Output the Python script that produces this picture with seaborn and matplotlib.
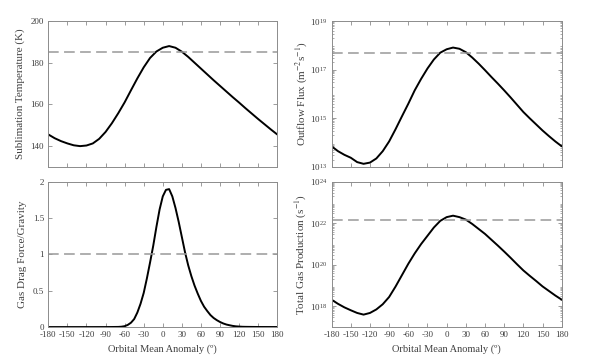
import numpy as np
import pandas as pd
import seaborn as sns
import matplotlib.pyplot as plt
from matplotlib.ticker import LogLocator, FixedLocator, NullFormatter

# orbital mean anomaly grid (deg)
anomaly = list(range(-180, 181, 10))

# sublimation temperature (K)
temperature = [145.6, 143.8, 142.4, 141.3, 140.4, 140.0, 140.3, 141.3, 143.5, 146.8,
               151.0, 155.8, 161.0, 166.8, 172.5, 177.8, 182.3, 185.4, 187.2, 188.0,
               187.2, 185.3, 182.8, 180.0, 177.2, 174.4, 171.6, 168.9, 166.2, 163.5,
               160.9, 158.2, 155.6, 153.0, 150.5, 148.0, 145.6]

# log10 outflow flux (m^-2 s^-1)
log_flux = [13.85, 13.65, 13.50, 13.38, 13.20, 13.13, 13.18, 13.35, 13.65, 14.05,
            14.55, 15.08, 15.60, 16.15, 16.62, 17.05, 17.42, 17.70, 17.84, 17.91,
            17.86, 17.72, 17.50, 17.25, 16.98, 16.70, 16.43, 16.15, 15.86, 15.56,
            15.26, 15.00, 14.75, 14.50, 14.27, 14.05, 13.85]

# log10 total gas production (s^-1)
log_prod = [18.32, 18.12, 17.95, 17.81, 17.68, 17.60, 17.68, 17.85, 18.10, 18.45,
            18.95, 19.50, 20.05, 20.55, 21.00, 21.40, 21.80, 22.12, 22.30, 22.37,
            22.30, 22.18, 21.97, 21.73, 21.49, 21.21, 20.93, 20.64, 20.34, 20.03,
            19.73, 19.47, 19.22, 18.96, 18.74, 18.52, 18.32]

# gas drag force / gravity, finer grid around the peak
drag_anomaly = [-180, -150, -120, -90, -80] + list(range(-70, 131, 5)) + [150, 180]
drag = [0.0, 0.0, 0.0, 0.0003, 0.001,
        0.002, 0.005, 0.012, 0.03, 0.06, 0.11, 0.20, 0.32, 0.47, 0.67,
        0.89, 1.12, 1.38, 1.62, 1.80, 1.89, 1.90, 1.80, 1.64, 1.45,
        1.24, 1.03, 0.85, 0.70, 0.57, 0.46, 0.36, 0.28, 0.22, 0.165,
        0.125, 0.095, 0.07, 0.05, 0.035, 0.025, 0.016, 0.01, 0.007, 0.004,
        0.003, 0.001, 0.0005]

temp_limit = 185
flux_limit = 10 ** 17.69
drag_limit = 1
prod_limit = 10 ** 22.16

xticks = list(range(-180, 181, 30))

sns.set_style("ticks")
plt.rcParams['font.family'] = ['Liberation Serif', 'DejaVu Serif']
plt.rcParams['mathtext.fontset'] = 'stix'

df = pd.DataFrame({"anomaly": anomaly,
                   "temperature": temperature,
                   "flux": np.power(10.0, log_flux),
                   "production": np.power(10.0, log_prod)})
df_drag = pd.DataFrame({"anomaly": drag_anomaly, "drag": drag})

fig = plt.figure(figsize=(6.04, 3.63), dpi=100)
ax_t = fig.add_axes([0.080, 0.540, 0.379, 0.402])
ax_f = fig.add_axes([0.549, 0.540, 0.381, 0.402])
ax_d = fig.add_axes([0.080, 0.099, 0.379, 0.400])
ax_p = fig.add_axes([0.549, 0.099, 0.381, 0.400])

line_kw = dict(color="black", linewidth=1.4)
dash_kw = dict(color="#999999", linewidth=1.1, linestyle=(0, (7, 3.5)))
spine_col = "#8c8c8c"
text_col = "#404040"

sns.lineplot(data=df, x="anomaly", y="temperature", ax=ax_t, **line_kw)
ax_t.axhline(temp_limit, **dash_kw)
ax_t.set_ylim(130, 200)
ax_t.set_yticks([140, 160, 180, 200])
ax_t.set_ylabel("Sublimation Temperature (K)")

sns.lineplot(data=df, x="anomaly", y="flux", ax=ax_f, **line_kw)
ax_f.axhline(flux_limit, **dash_kw)
ax_f.set_yscale("log")
ax_f.set_ylim(1e13, 1e19)
ax_f.yaxis.set_major_locator(FixedLocator([1e13, 1e15, 1e17, 1e19]))
ax_f.set_ylabel("Outflow Flux (m$^{-2}$s$^{-1}$)", labelpad=1)

sns.lineplot(data=df_drag, x="anomaly", y="drag", ax=ax_d, **line_kw)
ax_d.axhline(drag_limit, **dash_kw)
ax_d.set_ylim(0, 2)
ax_d.set_yticks([0, 0.5, 1, 1.5, 2])
ax_d.set_yticklabels(["0", "0.5", "1", "1.5", "2"])
ax_d.set_ylabel("Gas Drag Force/Gravity")

sns.lineplot(data=df, x="anomaly", y="production", ax=ax_p, **line_kw)
ax_p.axhline(prod_limit, **dash_kw)
ax_p.set_yscale("log")
ax_p.set_ylim(1e17, 1e24)
ax_p.yaxis.set_major_locator(FixedLocator([1e18, 1e20, 1e22, 1e24]))
ax_p.set_ylabel("Total Gas Production (s$^{-1}$)", labelpad=1)

for ax in (ax_f, ax_p):
    ax.yaxis.set_minor_locator(LogLocator(base=10, subs=np.arange(2, 10)))
    ax.yaxis.set_minor_formatter(NullFormatter())

for ax in (ax_t, ax_f, ax_d, ax_p):
    ax.set_xlim(-180, 180)
    ax.set_xticks(xticks)
    ax.tick_params(which="both", direction="in", top=True, right=True,
                   color=spine_col, labelcolor=text_col, labelsize=6.5, pad=3)
    ax.tick_params(which="major", length=3, width=0.6)
    ax.tick_params(which="minor", length=1.5, width=0.5)
    for s in ax.spines.values():
        s.set_color(spine_col)
        s.set_linewidth(0.7)
    ax.yaxis.label.set_color(text_col)
    ax.yaxis.label.set_size(8)
    ax.set_xlabel("")

for ax in (ax_t, ax_f):
    ax.set_xticklabels([])

for ax in (ax_d, ax_p):
    ax.set_xticklabels([str(t) for t in xticks])
    ax.set_xlabel("Orbital Mean Anomaly (º)", color=text_col, fontsize=7.5)

fig.savefig("out.png", dpi=100)
